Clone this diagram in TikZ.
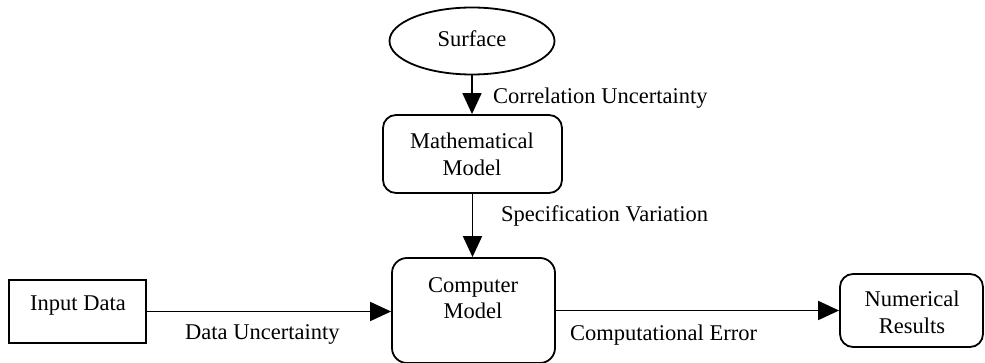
\documentclass[tikz,border=0pt]{standalone}
\usepackage{fontspec}
\setmainfont{Liberation Serif}
\usetikzlibrary{arrows.meta,shapes.geometric}
\begin{document}
\begin{tikzpicture}[x=1pt,y=-1pt,
  outline/.style={draw, line width=1.8pt, inner sep=0pt},
  roundbox/.style={outline, rounded corners=13pt},
  sharpbox/.style={outline},
  oval/.style={outline, ellipse},
  txt/.style={font=\fontsize{22.5}{27}\selectfont, inner sep=0pt, anchor=base},
  lbl/.style={txt, anchor=base west},
  flow/.style={-{Triangle[length=21pt,width=19pt]}, line width=1.8pt}]
\useasboundingbox (0,0) rectangle (985,363);

% shapes
\node[oval, minimum width=165pt, minimum height=67pt] (surface) at (472,41) {};
\node[roundbox, minimum width=179pt, minimum height=78pt] (math) at (472.5,154) {};
\node[roundbox, rounded corners=15pt, minimum width=163pt, minimum height=105pt] (comp) at (473.5,310.5) {};
\node[sharpbox, minimum width=137pt, minimum height=63pt] (input) at (77.5,311.5) {};
\node[roundbox, minimum width=143pt, minimum height=73pt] (numres) at (911.5,310.5) {};

% texts inside the shapes
\node[txt] (surfaceT) at (472,47) {Surface};
\node[txt] (mathA) at (472,149) {Mathematical};
\node[txt] (mathB) at (472,176) {Model};
\node[txt] (compA) at (473,292.5) {Computer};
\node[txt] (compB) at (473,319) {Model};
\node[txt] (inputT) at (78,310) {Input Data};
\node[txt] (numA) at (912,306.5) {Numerical};
\node[txt] (numB) at (912,333) {Results};

% connectors
\draw[flow] (surface.south) -- (surface.south |- math.north);
\draw[flow] (math.south) -- (math.south |- comp.north);
\draw[flow] (input.east) -- (input.east -| comp.west);
\draw[flow] (comp.east) -- (comp.east -| numres.west);

% connector labels
\node[lbl] (corrL) at (493,104) {Correlation Uncertainty};
\node[lbl] (specL) at (501,222) {Specification Variation};
\node[lbl] (dataL) at (185,339) {Data Uncertainty};
\node[lbl] (compL) at (570,340) {Computational Error};
\end{tikzpicture}
\end{document}
